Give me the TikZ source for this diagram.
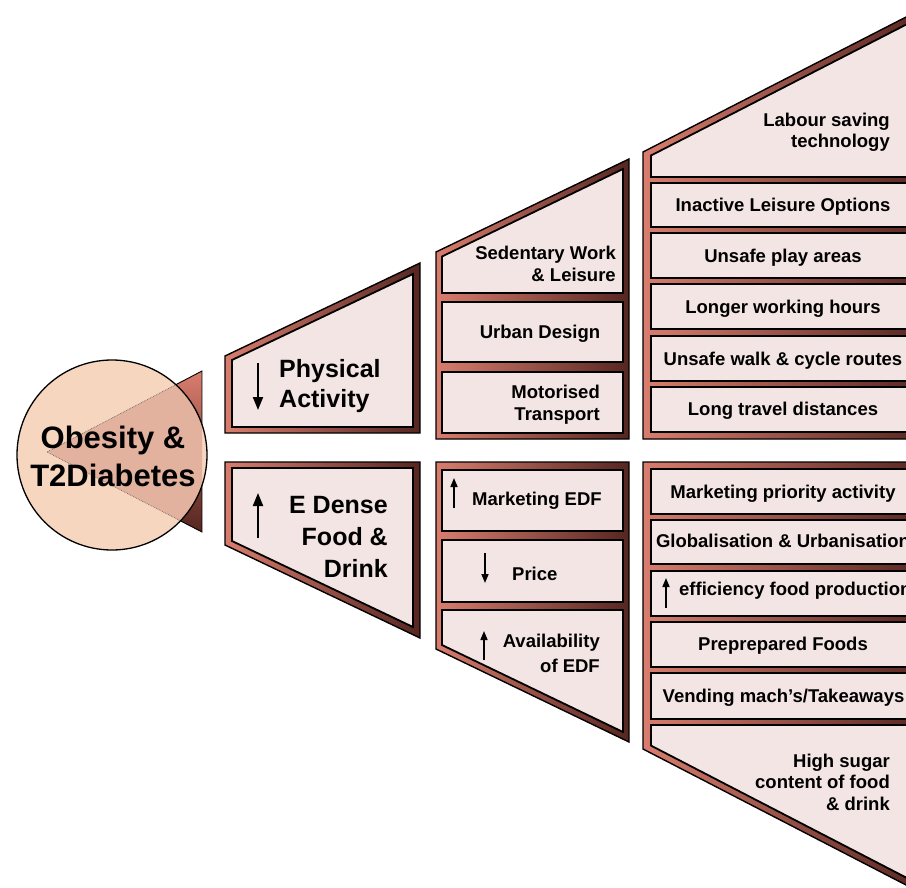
\documentclass[tikz,border=0pt]{standalone}
\usepackage{fontspec}
\setmainfont{Liberation Sans}
\usetikzlibrary{arrows.meta}
\definecolor{salmon}{RGB}{217,125,110}
\definecolor{darkbrown}{RGB}{86,38,32}
\definecolor{cellfill}{RGB}{243,229,227}
\definecolor{peach}{RGB}{247,214,192}
\definecolor{wedgefill}{RGB}{226,178,158}
\tikzset{
  frame/.style={left color=salmon, right color=darkbrown, draw=black, line width=1.4pt, line join=miter},
  cell/.style={fill=cellfill, draw=black, line width=1.8pt},
  lbl/.style={font=\bfseries\fontsize{18.5}{21}\selectfont, inner sep=0pt},
  biglbl/.style={font=\bfseries\fontsize{25}{30}\selectfont, inner sep=0pt},
  circlbl/.style={font=\bfseries\fontsize{31}{38}\selectfont, inner sep=0pt},
  bigarrow/.style={line width=2pt, -{Triangle[length=13pt,width=10pt]}},
  smallarrow/.style={line width=1.6pt, -{Triangle[length=9pt,width=7pt]}},
}
\begin{document}
\begin{tikzpicture}[x=1pt,y=-1pt]
\clip (0,0) rectangle (906,888);
\fill[white] (0,0) rectangle (906,888);

% ---- wedge and circle
\path[top color=salmon, bottom color=darkbrown, draw=black, line width=0.9pt] (47,452) -- (202,371) -- (202,532) -- cycle;
\fill[peach] (112,455) circle[radius=95pt];
\begin{scope}
  \clip (112,455) circle[radius=95pt];
  \fill[wedgefill] (47,452) -- (202,371) -- (202,532) -- cycle;
  \draw[densely dotted, black!60, line width=0.7pt] (202,371) -- (47,452) -- (202,532);
\end{scope}
\draw[line width=1.3pt] (112,455) circle[radius=95pt];
\node[circlbl, anchor=base] (ob1) at (113,448) {Obesity \&};
\node[circlbl, anchor=base] (ob2) at (113,486) {T2Diabetes};

% ---- Physical Activity box
\path[frame] (225,433) -- (225,356) -- (420,263) -- (420,433) -- cycle;
\path[cell] (232,427) -- (232,360) -- (413,274) -- (413,427) -- cycle;
\node[biglbl, anchor=base west] (pa1) at (279,377) {Physical};
\node[biglbl, anchor=base west] (pa2) at (279,407) {Activity};
\coordinate (paA) at (258,363); \coordinate (paB) at (258,410);
\draw[bigarrow] (paA) -- (paB);

% ---- E Dense box
\path[frame] (225,462) -- (420,462) -- (420,638) -- (225,545) -- cycle;
\path[cell] (232,468) -- (413,468) -- (413,627) -- (232,541) -- cycle;
\node[biglbl, anchor=base east] (ed1) at (388,513) {E Dense};
\node[biglbl, anchor=base east] (ed2) at (388,545) {Food \&};
\node[biglbl, anchor=base east] (ed3) at (388,577) {Drink};
\coordinate (edA) at (258,538); \coordinate (edB) at (258,493);
\draw[bigarrow] (edA) -- (edB);

% ---- Middle top column
\path[frame] (436,439) -- (436,252) -- (629,159) -- (629,439) -- cycle;
\path[cell] (442,293) -- (442,256.5) -- (623,169) -- (623,293) -- cycle;
\path[cell] (442,302) rectangle (623,362);
\path[cell] (442,372) rectangle (623,433);
\node[lbl, anchor=base east] (mt1) at (616,260) {Sedentary Work};
\node[lbl, anchor=base east] (mt2) at (616,281) {\& Leisure};
\node[lbl, anchor=base] (mt3) at (540,338) {Urban Design};
\node[lbl, anchor=base east] (mt4) at (600,398) {Motorised};
\node[lbl, anchor=base east] (mt5) at (600,420) {Transport};

% ---- Middle bottom column
\path[frame] (436,462) -- (629,462) -- (629,742) -- (436,649) -- cycle;
\path[cell] (442,470) rectangle (623,531);
\path[cell] (442,540) rectangle (623,602);
\path[cell] (442,610) -- (623,610) -- (623,732) -- (442,645) -- cycle;
\node[lbl, anchor=base west] (mb1) at (472,505) {Marketing EDF};
\coordinate (mbA1) at (454,508); \coordinate (mbB1) at (454,478);
\draw[smallarrow] (mbA1) -- (mbB1);
\node[lbl, anchor=base west] (mb2) at (512,580) {Price};
\coordinate (mbA2) at (485,553); \coordinate (mbB2) at (485,583);
\draw[smallarrow] (mbA2) -- (mbB2);
\node[lbl, anchor=base east] (mb3) at (600,647) {Availability};
\node[lbl, anchor=base east] (mb4) at (600,672) {of EDF};
\coordinate (mbA3) at (484,660); \coordinate (mbB3) at (484,631);
\draw[smallarrow] (mbA3) -- (mbB3);

% ---- Right top column
\path[frame] (643,439) -- (643,152) -- (925,7.3) -- (925,439) -- cycle;
\path[cell] (651,177) -- (651,155.5) -- (918,18.5) -- (918,177) -- cycle;
\path[cell] (651,183) rectangle (918,227);
\path[cell] (651,233) rectangle (918,278);
\path[cell] (651,284) rectangle (918,329);
\path[cell] (651,336) rectangle (918,381);
\path[cell] (651,387) rectangle (918,432);
\node[lbl, anchor=base east] (rt1) at (890,127) {Labour saving};
\node[lbl, anchor=base east] (rt2) at (890,148) {technology};
\node[lbl, anchor=base] (rt3) at (783,212) {Inactive Leisure Options};
\node[lbl, anchor=base] (rt4) at (783,262) {Unsafe play areas};
\node[lbl, anchor=base] (rt5) at (783,313) {Longer working hours};
\node[lbl, anchor=base] (rt6) at (783,365) {Unsafe walk \& cycle routes};
\node[lbl, anchor=base] (rt7) at (783,415) {Long travel distances};

% ---- Right bottom column
\path[frame] (643,462) -- (925,462) -- (925,894.8) -- (643,749) -- cycle;
\path[cell] (651,469) rectangle (918,514);
\path[cell] (651,520) rectangle (918,564);
\path[cell] (651,571) rectangle (918,616);
\path[cell] (651,622) rectangle (918,667);
\path[cell] (651,673) rectangle (918,719);
\path[cell] (651,725) -- (918,725) -- (918,883.7) -- (651,745.6) -- cycle;
\node[lbl, anchor=base] (rb1) at (783,498) {Marketing priority activity};
\node[lbl, anchor=base] (rb2) at (783,547) {Globalisation \& Urbanisation};
\node[lbl, anchor=base west] (rb3) at (679,595) {efficiency food production};
\coordinate (rbA) at (666,608); \coordinate (rbB) at (666,578);
\draw[smallarrow] (rbA) -- (rbB);
\node[lbl, anchor=base] (rb4) at (783,650) {Preprepared Foods};
\node[lbl, anchor=base] (rb5) at (783.5,702) {Vending mach’s/Takeaways};
\node[lbl, anchor=base east] (rb6) at (890,767) {High sugar};
\node[lbl, anchor=base east] (rb7) at (890,788) {content of food};
\node[lbl, anchor=base east] (rb8) at (890,810) {\& drink};
\end{tikzpicture}
\end{document}
